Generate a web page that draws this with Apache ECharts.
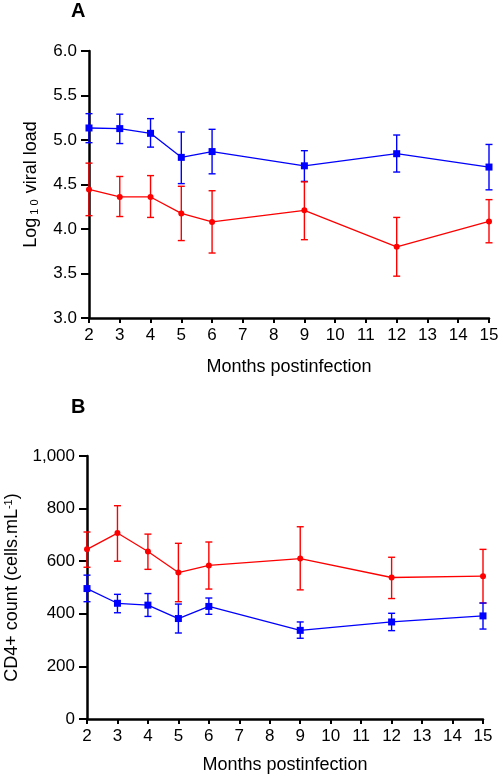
<!DOCTYPE html>
<html>
<head>
<meta charset="utf-8">
<script src="https://cdn.jsdelivr.net/npm/echarts@6/dist/echarts.min.js"></script>
<style>html,body{margin:0;padding:0;background:#fff}#c{width:498px;height:775px}</style>
</head>
<body>
<div id="c"></div>
<script>
const months = [2, 3, 4, 5, 6, 9, 12, 15];
// Panel A: log10 viral load
const aBlue   = [5.135, 5.128, 5.075, 4.805, 4.87, 4.71, 4.846, 4.696];
const aBlueLo = [4.97, 4.96, 4.92, 4.51, 4.62, 4.535, 4.64, 4.44];
const aBlueHi = [5.296, 5.29, 5.24, 5.09, 5.12, 4.88, 5.056, 4.95];
const aRed    = [4.445, 4.36, 4.36, 4.175, 4.08, 4.21, 3.80, 4.085];
const aRedLo  = [4.15, 4.14, 4.13, 3.87, 3.73, 3.88, 3.47, 3.845];
const aRedHi  = [4.74, 4.59, 4.60, 4.48, 4.43, 4.53, 4.13, 4.33];
// Panel B: CD4+ count
const bRed    = [645, 707, 637, 557, 584, 610, 538, 543];
const bRedLo  = [577, 600, 569, 446, 494, 491, 458, 441];
const bRedHi  = [711, 811, 703, 668, 673, 731, 615, 645];
const bBlue   = [496, 440, 433, 382, 428, 337, 369, 392];
const bBlueLo = [446, 404, 390, 327, 398, 307, 336, 342];
const bBlueHi = [547, 474, 477, 437, 460, 369, 402, 441];

const BLUE = '#0000ff', RED = '#ff0000';
const FONT = 'Liberation Sans, Arial, sans-serif';

function pairs(vals){ return months.map((m,i)=>[m, vals[i]]); }
function errData(lo, hi){ return months.map((m,i)=>[m, lo[i], hi[i]]); }

function errSeries(lo, hi, color, gi){
  return {
    type: 'custom', xAxisIndex: gi, yAxisIndex: gi, z: 3,
    data: errData(lo, hi),
    renderItem: function(params, api){
      const x = api.value(0);
      const p1 = api.coord([x, api.value(1)]);
      const p2 = api.coord([x, api.value(2)]);
      const w = 3.5;
      const st = {stroke: color, lineWidth: 1.4};
      return {type: 'group', children: [
        {type:'line', shape:{x1:p1[0], y1:p1[1], x2:p2[0], y2:p2[1]}, style: st},
        {type:'line', shape:{x1:p1[0]-w, y1:p1[1], x2:p1[0]+w, y2:p1[1]}, style: st},
        {type:'line', shape:{x1:p2[0]-w, y1:p2[1], x2:p2[0]+w, y2:p2[1]}, style: st}
      ]};
    }
  };
}

function lineSeries(vals, color, symbol, size, gi){
  return {
    type: 'line', xAxisIndex: gi, yAxisIndex: gi, z: 4,
    data: pairs(vals), symbol: symbol, symbolSize: size,
    lineStyle: {color: color, width: 1.3},
    itemStyle: {color: color},
    animation: false
  };
}

function xAxis(gi, gap){
  return {
    type: 'value', gridIndex: gi, min: 2, max: 15, interval: 1,
    name: 'Months postinfection', nameLocation: 'middle', nameGap: gap,
    nameTextStyle: {fontFamily: FONT, fontSize: 18, color: '#000'},
    axisLine: {show: true, lineStyle: {color: '#000', width: 2.5}},
    axisTick: {show: true, inside: false, length: 5, lineStyle: {color: '#000', width: 2}},
    axisLabel: {fontFamily: FONT, fontSize: 17, color: '#000', margin: 9},
    splitLine: {show: false}
  };
}

const chart = echarts.init(document.getElementById('c'), null, {renderer: 'canvas'});
chart.setOption({
  animation: false,
  backgroundColor: '#fff',
  title: [
    {text: 'A', left: 66, top: -4, textStyle: {fontFamily: FONT, fontSize: 20, fontWeight: 'bold', color: '#000'}},
    {text: 'B', left: 66, top: 392, textStyle: {fontFamily: FONT, fontSize: 20, fontWeight: 'bold', color: '#000'}}
  ],
  grid: [
    {left: 89, right: 9, top: 51, height: 267, containLabel: false, outerBoundsMode: 'none'},
    {left: 87, right: 15, top: 456, height: 263, containLabel: false, outerBoundsMode: 'none'}
  ],
  xAxis: [xAxis(0, 40), xAxis(1, 37)],
  yAxis: [
    {
      type: 'value', gridIndex: 0, min: 3, max: 6, interval: 0.5,
      name: '{n|Log}{s|1 0}{n| viral load}', nameLocation: 'middle', nameGap: 49,
      nameTextStyle: {fontFamily: FONT, fontSize: 18, color: '#000',
        rich: {n: {fontFamily: FONT, fontSize: 18, color: '#000', verticalAlign: 'bottom', lineHeight: 21},
               s: {fontFamily: FONT, fontSize: 11, color: '#000', verticalAlign: 'bottom', lineHeight: 13, padding: [0, 1, 0, 3]}}},
      axisLine: {show: true, lineStyle: {color: '#000', width: 2.5}},
      axisTick: {show: true, inside: false, length: 8, lineStyle: {color: '#000', width: 2}},
      axisLabel: {fontFamily: FONT, fontSize: 17, color: '#000', margin: 12, formatter: v => v.toFixed(1)},
      splitLine: {show: false}
    },
    {
      type: 'value', gridIndex: 1, min: 0, max: 1000, interval: 200,
      name: '{n|CD4+ count (cells.mL}{p|-1}{n|)}', nameLocation: 'middle', nameGap: 63,
      nameTextStyle: {fontFamily: FONT, fontSize: 18, color: '#000',
        rich: {n: {fontFamily: FONT, fontSize: 18, color: '#000', verticalAlign: 'top', lineHeight: 21},
               p: {fontFamily: FONT, fontSize: 11, color: '#000', verticalAlign: 'top', lineHeight: 13}}},
      axisLine: {show: true, lineStyle: {color: '#000', width: 2.5}},
      axisTick: {show: true, inside: false, length: 8, lineStyle: {color: '#000', width: 2}},
      axisLabel: {fontFamily: FONT, fontSize: 17, color: '#000', margin: 12,
        formatter: v => v.toLocaleString('en-US')},
      splitLine: {show: false}
    }
  ],
  series: [
    errSeries(aBlueLo, aBlueHi, BLUE, 0),
    errSeries(aRedLo, aRedHi, RED, 0),
    lineSeries(aBlue, BLUE, 'rect', 7, 0),
    lineSeries(aRed, RED, 'circle', 6, 0),
    errSeries(bRedLo, bRedHi, RED, 1),
    errSeries(bBlueLo, bBlueHi, BLUE, 1),
    lineSeries(bRed, RED, 'circle', 6, 1),
    lineSeries(bBlue, BLUE, 'rect', 7, 1)
  ]
});
</script>
</body>
</html>
